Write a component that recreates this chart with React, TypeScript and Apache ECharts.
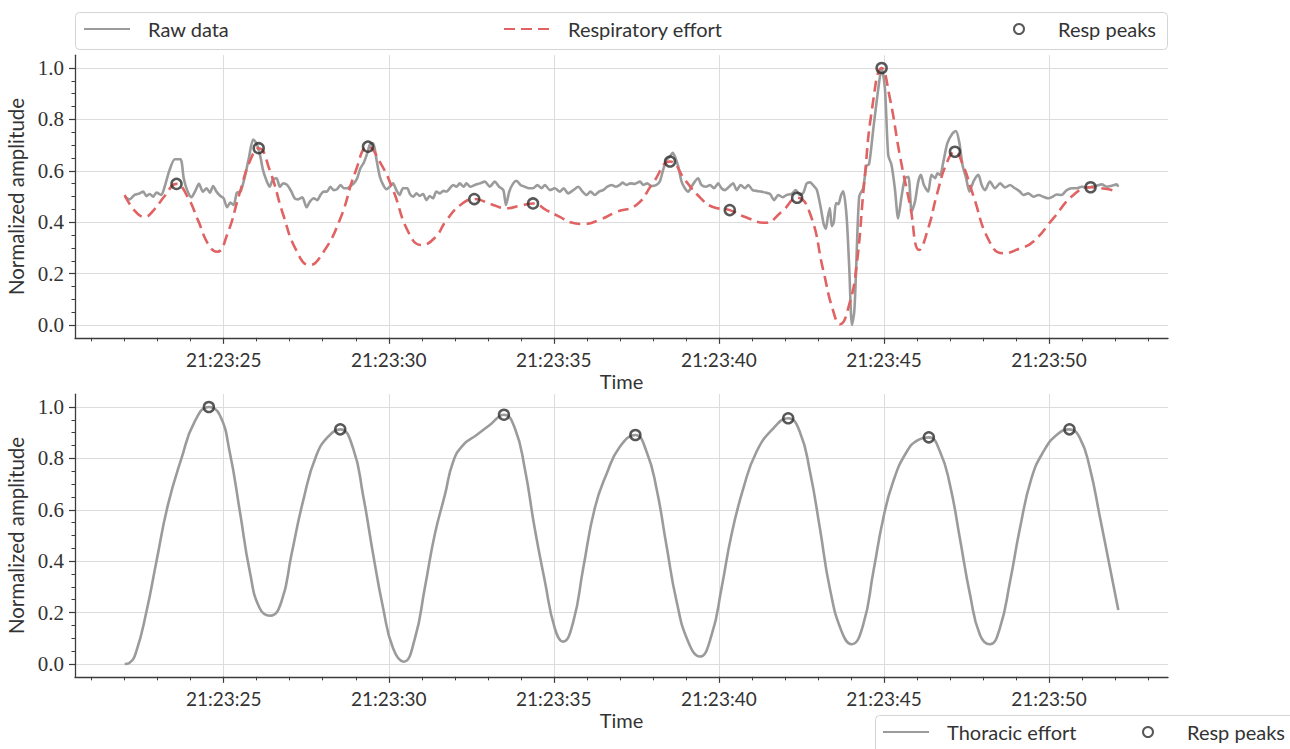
import React, { useEffect, useRef } from 'react';
import * as echarts from 'echarts';

// ---- axis ticks (seconds after 21:23:20) ----
const xTickSec = [5, 10, 15, 20, 25, 30];
const xTickLabels = ['21:23:25', '21:23:30', '21:23:35', '21:23:40', '21:23:45', '21:23:50'];
const xMinorSec = [1, 2, 3, 4, 5, 6, 7, 8, 9, 10, 11, 12, 13, 14, 15, 16, 17, 18, 19, 20, 21, 22, 23, 24, 25, 26, 27, 28, 29, 30, 31, 32, 33];
const yTickVals = [0, 0.2, 0.4, 0.6, 0.8, 1.0];
const yTickLabels = ['0.0', '0.2', '0.4', '0.6', '0.8', '1.0'];
const yMinorVals = [0, 0.05, 0.1, 0.15, 0.2, 0.25, 0.3, 0.35, 0.4, 0.45, 0.5, 0.55, 0.6, 0.65, 0.7, 0.75, 0.8, 0.85, 0.9, 0.95, 1.0];

// ---- top panel: raw data ----
const rawSec = [2.0, 2.15, 2.3, 2.45, 2.56, 2.66, 2.76, 2.86, 2.96, 3.11, 3.21, 3.36, 3.52, 3.69, 3.79, 3.89, 4.02, 4.14, 4.25, 4.37, 4.48, 4.58, 4.68, 4.78, 4.9, 5.0, 5.1, 5.2, 5.3, 5.4, 5.51, 5.64, 5.77, 5.89, 5.99, 6.09, 6.19, 6.29, 6.39, 6.49, 6.6, 6.7, 6.8, 6.92, 7.05, 7.15, 7.25, 7.38, 7.51, 7.61, 7.73, 7.83, 7.93, 8.03, 8.13, 8.23, 8.33, 8.43, 8.54, 8.64, 8.74, 8.84, 8.94, 9.04, 9.14, 9.24, 9.34, 9.44, 9.53, 9.63, 9.73, 9.83, 9.93, 10.03, 10.13, 10.23, 10.33, 10.43, 10.56, 10.64, 10.74, 10.84, 10.94, 11.04, 11.14, 11.24, 11.34, 11.44, 11.55, 11.65, 11.75, 11.85, 11.95, 12.05, 12.15, 12.27, 12.35, 12.47, 12.61, 12.76, 12.91, 13.06, 13.21, 13.34, 13.47, 13.55, 13.65, 13.77, 13.87, 13.99, 14.12, 14.25, 14.37, 14.5, 14.63, 14.73, 14.88, 15.03, 15.18, 15.3, 15.43, 15.59, 15.74, 15.87, 15.99, 16.11, 16.24, 16.37, 16.49, 16.62, 16.75, 16.88, 17.0, 17.08, 17.2, 17.32, 17.45, 17.61, 17.71, 17.83, 17.96, 18.11, 18.21, 18.31, 18.41, 18.52, 18.6, 18.67, 18.77, 18.87, 18.97, 19.07, 19.17, 19.27, 19.37, 19.47, 19.61, 19.73, 19.85, 19.98, 20.08, 20.18, 20.31, 20.43, 20.54, 20.66, 20.79, 20.89, 21.02, 21.14, 21.29, 21.42, 21.55, 21.67, 21.8, 21.93, 22.05, 22.2, 22.33, 22.45, 22.56, 22.66, 22.76, 22.88, 22.97, 23.08, 23.18, 23.24, 23.3, 23.36, 23.42, 23.48, 23.55, 23.62, 23.7, 23.77, 23.87, 23.95, 24.03, 24.1, 24.15, 24.25, 24.37, 24.47, 24.55, 24.68, 24.83, 24.93, 25.03, 25.13, 25.23, 25.33, 25.43, 25.54, 25.64, 25.74, 25.84, 25.94, 26.04, 26.12, 26.21, 26.34, 26.44, 26.55, 26.62, 26.7, 26.8, 26.92, 27.08, 27.18, 27.28, 27.38, 27.49, 27.59, 27.71, 27.86, 27.96, 28.06, 28.21, 28.36, 28.52, 28.67, 28.82, 28.97, 29.12, 29.22, 29.37, 29.53, 29.68, 29.83, 29.98, 30.11, 30.23, 30.38, 30.54, 30.69, 30.84, 30.99, 31.14, 31.29, 31.44, 31.6, 31.75, 31.9, 32.05, 32.1];
const rawAmp = [0.499, 0.489, 0.506, 0.512, 0.519, 0.502, 0.51, 0.499, 0.515, 0.506, 0.538, 0.603, 0.645, 0.645, 0.57, 0.525, 0.497, 0.522, 0.549, 0.519, 0.532, 0.515, 0.541, 0.519, 0.502, 0.493, 0.458, 0.476, 0.467, 0.515, 0.519, 0.577, 0.655, 0.722, 0.707, 0.668, 0.603, 0.564, 0.538, 0.567, 0.571, 0.538, 0.551, 0.545, 0.519, 0.493, 0.489, 0.497, 0.458, 0.48, 0.493, 0.486, 0.506, 0.519, 0.519, 0.538, 0.525, 0.528, 0.545, 0.532, 0.532, 0.541, 0.551, 0.57, 0.61, 0.631, 0.665, 0.705, 0.707, 0.642, 0.577, 0.545, 0.528, 0.538, 0.551, 0.525, 0.506, 0.532, 0.532, 0.51, 0.499, 0.512, 0.502, 0.51, 0.486, 0.502, 0.493, 0.519, 0.512, 0.522, 0.519, 0.532, 0.545, 0.538, 0.551, 0.538, 0.551, 0.538, 0.545, 0.551, 0.558, 0.538, 0.558, 0.538, 0.525, 0.467, 0.519, 0.551, 0.561, 0.545, 0.538, 0.532, 0.532, 0.545, 0.532, 0.545, 0.525, 0.532, 0.519, 0.532, 0.512, 0.525, 0.538, 0.519, 0.506, 0.519, 0.506, 0.519, 0.525, 0.538, 0.545, 0.538, 0.545, 0.554, 0.545, 0.551, 0.549, 0.558, 0.545, 0.551, 0.541, 0.545, 0.558, 0.603, 0.642, 0.655, 0.67, 0.655, 0.616, 0.558, 0.532, 0.519, 0.538, 0.558, 0.571, 0.545, 0.538, 0.545, 0.532, 0.551, 0.532, 0.525, 0.538, 0.551, 0.525, 0.545, 0.532, 0.545, 0.525, 0.522, 0.519, 0.515, 0.51, 0.486, 0.506, 0.497, 0.506, 0.51, 0.525, 0.506, 0.515, 0.551, 0.555, 0.54, 0.525, 0.46, 0.39, 0.375, 0.42, 0.455, 0.385, 0.4, 0.475, 0.47, 0.505, 0.52, 0.42, 0.22, 0.0, 0.05, 0.19, 0.5, 0.532, 0.62, 0.625, 0.765, 0.921, 0.999, 0.921, 0.661, 0.623, 0.532, 0.415, 0.506, 0.571, 0.577, 0.441, 0.48, 0.558, 0.584, 0.545, 0.519, 0.584, 0.571, 0.59, 0.584, 0.635, 0.707, 0.746, 0.755, 0.713, 0.623, 0.571, 0.519, 0.558, 0.584, 0.545, 0.525, 0.558, 0.532, 0.551, 0.535, 0.545, 0.532, 0.519, 0.506, 0.512, 0.499, 0.506, 0.499, 0.493, 0.499, 0.508, 0.506, 0.525, 0.532, 0.532, 0.538, 0.535, 0.538, 0.542, 0.547, 0.538, 0.542, 0.547, 0.538];

// ---- top panel: respiratory effort ----
const effortSec = [2.0, 2.3, 2.6, 2.9, 3.2, 3.57, 3.9, 4.22, 4.55, 4.8, 5.1, 5.48, 5.8, 6.06, 6.4, 6.8, 7.2, 7.6, 8.0, 8.52, 9.0, 9.37, 9.75, 10.13, 10.6, 10.99, 11.4, 11.75, 12.2, 12.59, 13.1, 13.57, 14.0, 14.37, 14.8, 15.18, 15.5, 15.89, 16.4, 16.9, 17.5, 18.0, 18.52, 19.0, 19.4, 19.8, 20.33, 20.8, 21.39, 21.9, 22.37, 22.76, 23.16, 23.45, 23.67, 23.95, 24.17, 24.4, 24.65, 24.93, 25.18, 25.48, 25.79, 26.07, 26.35, 26.6, 26.9, 27.15, 27.4, 27.7, 28.2, 28.62, 29.12, 29.52, 30.13, 30.74, 31.26, 31.7, 32.1];
const effortAmp = [0.506, 0.445, 0.421, 0.45, 0.5, 0.549, 0.5, 0.408, 0.31, 0.285, 0.35, 0.512, 0.64, 0.688, 0.6, 0.43, 0.29, 0.233, 0.28, 0.41, 0.6, 0.694, 0.63, 0.525, 0.36, 0.311, 0.34, 0.408, 0.47, 0.49, 0.47, 0.454, 0.465, 0.473, 0.445, 0.421, 0.4, 0.393, 0.41, 0.44, 0.467, 0.552, 0.636, 0.56, 0.5, 0.46, 0.447, 0.42, 0.398, 0.44, 0.495, 0.434, 0.214, 0.06, 0.003, 0.08, 0.23, 0.55, 0.85, 1.0, 0.882, 0.661, 0.467, 0.292, 0.38, 0.506, 0.63, 0.674, 0.62, 0.506, 0.324, 0.279, 0.298, 0.324, 0.415, 0.506, 0.536, 0.53, 0.519];

// ---- top panel: detected peaks ----
const respPeakSec = [3.57, 6.06, 9.37, 12.59, 14.37, 18.52, 20.33, 22.37, 24.93, 27.15, 31.26];
const respPeakAmp = [0.549, 0.688, 0.694, 0.49, 0.473, 0.636, 0.447, 0.495, 1.0, 0.674, 0.536];

// ---- bottom panel: thoracic effort ----
const thoracicSec = [2.0, 2.15, 2.35, 2.66, 2.96, 3.31, 3.72, 4.12, 4.55, 4.88, 5.18, 5.49, 5.79, 6.09, 6.41, 6.75, 7.05, 7.4, 7.81, 8.21, 8.53, 8.92, 9.22, 9.53, 9.83, 10.13, 10.45, 10.79, 11.09, 11.39, 11.7, 11.95, 12.25, 12.66, 13.06, 13.49, 13.82, 14.12, 14.42, 14.73, 15.03, 15.28, 15.59, 15.89, 16.24, 16.6, 17.0, 17.47, 17.81, 18.11, 18.41, 18.72, 19.07, 19.42, 19.78, 20.08, 20.38, 20.74, 21.14, 21.65, 22.1, 22.45, 22.76, 23.06, 23.36, 23.72, 24.02, 24.37, 24.68, 24.98, 25.28, 25.69, 26.04, 26.36, 26.7, 27.0, 27.3, 27.61, 27.91, 28.21, 28.51, 28.82, 29.12, 29.47, 29.83, 30.23, 30.62, 30.94, 31.24, 31.55, 31.85, 32.1];
const thoracicAmp = [0.0, 0.005, 0.048, 0.204, 0.398, 0.619, 0.8, 0.943, 1.0, 0.969, 0.826, 0.593, 0.36, 0.217, 0.188, 0.243, 0.424, 0.632, 0.813, 0.891, 0.913, 0.839, 0.658, 0.424, 0.217, 0.061, 0.009, 0.099, 0.295, 0.502, 0.658, 0.787, 0.852, 0.891, 0.93, 0.97, 0.917, 0.761, 0.528, 0.321, 0.139, 0.087, 0.165, 0.373, 0.606, 0.74, 0.845, 0.891, 0.826, 0.683, 0.463, 0.243, 0.087, 0.029, 0.113, 0.295, 0.502, 0.683, 0.826, 0.917, 0.956, 0.904, 0.748, 0.528, 0.295, 0.126, 0.077, 0.152, 0.36, 0.567, 0.71, 0.826, 0.872, 0.882, 0.826, 0.697, 0.489, 0.269, 0.113, 0.077, 0.139, 0.321, 0.528, 0.723, 0.826, 0.891, 0.913, 0.878, 0.761, 0.567, 0.373, 0.21];
const thoracicPeakSec = [4.55, 8.53, 13.49, 17.47, 22.1, 26.36, 30.62];
const thoracicPeakAmp = [1.0, 0.913, 0.97, 0.891, 0.956, 0.882, 0.913];

const X_MIN = 0.495;
const X_MAX = 33.605;
const Y_MIN = -0.05;
const Y_MAX = 1.05;

const SANS = 'Lato, "Noto Sans", sans-serif';
const SERIF = '"Liberation Serif", "DejaVu Serif", serif';
const GRAY = '#9b9b9b';
const RED = '#e06262';
const DARK = '#333333';
const SPINE = '#3c3c3c';
const GRID = '#dcdcdc';

const zip = (a: number[], b: number[]) => a.map((v, i) => [v, b[i]]);

function xMajor(gridIndex: number) {
  return {
    type: 'value', gridIndex, position: 'bottom', min: X_MIN, max: X_MAX,
    name: 'Time', nameLocation: 'middle', nameGap: 33,
    nameTextStyle: { fontFamily: SANS, fontSize: 20, color: DARK },
    axisLine: { show: true, onZero: false, lineStyle: { color: SPINE, width: 1.3 } },
    axisTick: { show: true, customValues: xTickSec, length: 6, lineStyle: { color: SPINE, width: 1.2 } },
    axisLabel: {
      show: true, customValues: xTickSec, margin: 12, fontFamily: SANS, fontSize: 19, color: DARK,
      formatter: (v: number) => {
        const i = xTickSec.findIndex((s) => Math.abs(s - v) < 1e-6);
        return i >= 0 ? xTickLabels[i] : '';
      },
    },
    splitLine: { show: true, lineStyle: { color: GRID, width: 1 } },
  };
}
function xMinor(gridIndex: number) {
  return {
    type: 'value', gridIndex, position: 'bottom', min: X_MIN, max: X_MAX,
    axisLine: { show: false, onZero: false },
    axisTick: { show: true, customValues: xMinorSec, length: 3.5, lineStyle: { color: SPINE, width: 1 } },
    axisLabel: { show: false },
    splitLine: { show: false },
  };
}
function yMajor(gridIndex: number) {
  return {
    type: 'value', gridIndex, position: 'left', min: Y_MIN, max: Y_MAX,
    name: 'Normalized amplitude', nameLocation: 'middle', nameGap: 45, nameRotate: 90,
    nameTextStyle: { fontFamily: SANS, fontSize: 20.5, color: DARK },
    axisLine: { show: true, onZero: false, lineStyle: { color: SPINE, width: 1.3 } },
    axisTick: { show: true, customValues: yTickVals, length: 6, lineStyle: { color: SPINE, width: 1.2 } },
    axisLabel: {
      show: true, customValues: yTickVals, margin: 11, fontFamily: SERIF, fontSize: 21, color: DARK,
      formatter: (v: number) => {
        const i = yTickVals.findIndex((s) => Math.abs(s - v) < 1e-6);
        return i >= 0 ? yTickLabels[i] : '';
      },
    },
    splitLine: { show: true, lineStyle: { color: GRID, width: 1 } },
  };
}
function yMinor(gridIndex: number) {
  return {
    type: 'value', gridIndex, position: 'left', min: Y_MIN, max: Y_MAX,
    axisLine: { show: false, onZero: false },
    axisTick: { show: true, customValues: yMinorVals, length: 3.5, lineStyle: { color: SPINE, width: 1 } },
    axisLabel: { show: false },
    splitLine: { show: false },
  };
}

const textBase = { fontFamily: SANS, fontSize: 20, color: DARK };
const lineLegend = {
  orient: 'horizontal', itemWidth: 46, itemHeight: 10, itemGap: 0, padding: 0,
  selectedMode: false, itemStyle: { opacity: 0 },
  textStyle: { ...textBase, padding: [0, 0, 0, 13] },
};
const peakLegend = {
  orient: 'horizontal', itemWidth: 46, itemHeight: 10, itemGap: 0, padding: 0,
  selectedMode: false,
  textStyle: { ...textBase, padding: [0, 0, 0, 11] },
};

export default function App() {
  const ref = useRef<HTMLDivElement>(null);
  useEffect(() => {
    if (!ref.current) return;
    const chart = echarts.init(ref.current, null, { renderer: 'svg' });
    const peakStyle = { color: 'rgba(255,255,255,0)', borderColor: '#2e2e2e', borderWidth: 2.5 };
    chart.setOption({
      animation: false,
      backgroundColor: '#ffffff',
      grid: [
        { left: 75, top: 55.15, width: 1093, height: 282.7, outerBoundsMode: 'none' },
        { left: 75, top: 394.15, width: 1093, height: 282.7, outerBoundsMode: 'none' },
      ],
      xAxis: [xMajor(0), xMinor(0), xMajor(1), xMinor(1)],
      yAxis: [yMajor(0), yMinor(0), yMajor(1), yMinor(1)],
      graphic: [
        { type: 'rect', z: 0, shape: { x: 75.5, y: 12.5, width: 1092, height: 37, r: 4 }, style: { fill: '#fff', stroke: '#d4d4d4', lineWidth: 1 } },
        { type: 'rect', z: 0, shape: { x: 875.5, y: 715.5, width: 440, height: 45, r: 4 }, style: { fill: '#fff', stroke: '#d4d4d4', lineWidth: 1 } },
      ],
      legend: [
        { ...lineLegend, data: ['Raw data'], left: 83, top: 19 },
        { ...lineLegend, data: ['Respiratory effort'], left: 503, top: 19 },
        { ...peakLegend, data: ['Resp peaks'], left: 1013, top: 19 },
        { ...lineLegend, data: ['Thoracic effort'], left: 882, top: 722 },
        { ...peakLegend, data: ['Resp peaks'], left: 1142, top: 722 },
      ],
      series: [
        {
          name: 'Raw data', type: 'line', xAxisIndex: 0, yAxisIndex: 0, data: zip(rawSec, rawAmp),
          symbol: 'none', showSymbol: false, smooth: 0.25, lineStyle: { color: GRAY, width: 2.6 }, itemStyle: { color: GRAY }, z: 2,
        },
        {
          name: 'Respiratory effort', type: 'line', xAxisIndex: 0, yAxisIndex: 0, data: zip(effortSec, effortAmp),
          symbol: 'none', showSymbol: false, smooth: 0.5,
          lineStyle: { color: RED, width: 2.6, type: [11, 6] }, itemStyle: { color: RED }, z: 3,
        },
        {
          name: 'Resp peaks', type: 'scatter', xAxisIndex: 0, yAxisIndex: 0, data: zip(respPeakSec, respPeakAmp),
          symbol: 'circle', symbolSize: 10, itemStyle: peakStyle, z: 4,
        },
        {
          name: 'Thoracic effort', type: 'line', xAxisIndex: 2, yAxisIndex: 2, data: zip(thoracicSec, thoracicAmp),
          symbol: 'none', showSymbol: false, smooth: 0.5,
          lineStyle: { color: GRAY, width: 2.6 }, itemStyle: { color: GRAY }, z: 2,
        },
        {
          name: 'Resp peaks', type: 'scatter', xAxisIndex: 2, yAxisIndex: 2, data: zip(thoracicPeakSec, thoracicPeakAmp),
          symbol: 'circle', symbolSize: 10, itemStyle: peakStyle, z: 4,
        },
      ],
    });
    return () => chart.dispose();
  }, []);
  return <div ref={ref} style={{ position: 'absolute', left: 0, top: 0, width: 1290, height: 749 }} />;
}
